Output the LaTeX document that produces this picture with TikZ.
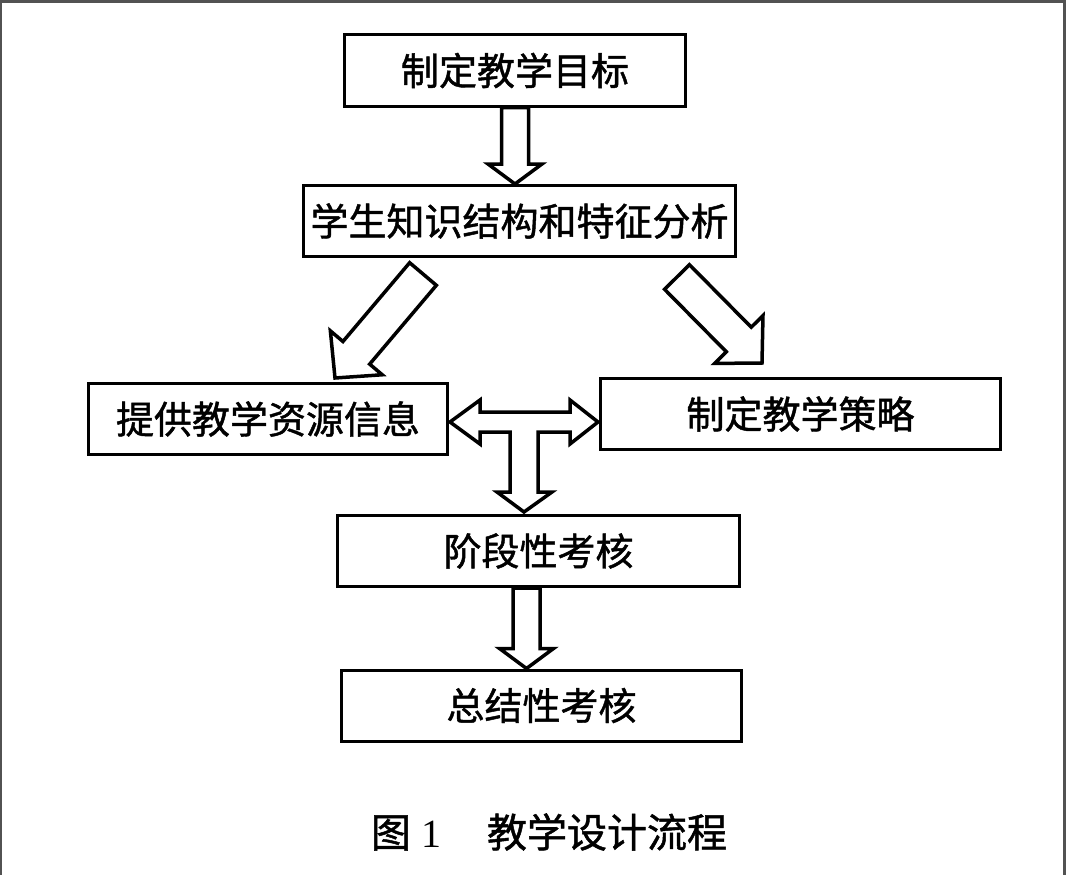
\documentclass[tikz,border=0pt]{standalone}
\usepackage{fontspec}
\newfontfamily\cjk{Noto Sans CJK SC}[FakeBold=1.2]
\newfontfamily\numfont{Liberation Serif}
\usetikzlibrary{calc}

\newcommand\blockarrow[5]{%
  \coordinate (ba-s) at (#1);
  \coordinate (ba-e) at (#2);
  \coordinate (ba-h) at ($(ba-e)!#5!(ba-s)$);
  \draw[blockarr] ($(ba-s)!#3!90:(ba-e)$) -- ($(ba-h)!#3!90:(ba-e)$)
    -- ($(ba-h)!#4!90:(ba-e)$) -- (ba-e) -- ($(ba-h)!#4!-90:(ba-e)$)
    -- ($(ba-h)!#3!-90:(ba-e)$) -- ($(ba-s)!#3!-90:(ba-e)$) -- cycle;
}

\begin{document}
\begin{tikzpicture}[x=1pt,y=-1pt,
    font=\cjk\fontsize{38}{40}\selectfont,
    box/.style={draw,line width=3pt,inner sep=0pt,minimum height=71pt},
    blockarr/.style={draw,fill=white,line width=3.5pt,line join=miter}]
  \useasboundingbox (0,0) rectangle (1066,875);
  \draw[line width=2.5pt,black!68] (1,875) -- (1,1.5) -- (1064.5,1.5) -- (1064.5,875);

  \node[box,minimum width=341pt] (goal) at (515,70.5) {制定教学目标};
  \node[box,minimum width=432pt] (anal) at (519.5,221) {学生知识结构和特征分析};
  \node[box,minimum width=359pt] (res) at (268,419) {提供教学资源信息};
  \node[box,minimum width=400pt] (strat) at (800.5,414) {制定教学策略};
  \node[box,minimum width=402pt] (stage) at (538.5,551) {阶段性考核};
  \node[box,minimum width=400pt] (summ) at (541.5,705.5) {总结性考核};

  \blockarrow{goal.south}{goal.south |- anal.north}{13.5pt}{27pt}{20pt}

  \coordinate (l-s) at (423,274);
  \coordinate (l-e) at (335,378);
  \blockarrow{l-s}{l-e}{17.5pt}{34pt}{33pt}
  \coordinate (r-s) at (677,277);
  \coordinate (r-e) at (762,363);
  \blockarrow{r-s}{r-e}{17.5pt}{34pt}{33pt}

  \coordinate (dl) at (450,422);
  \coordinate (dr) at (598,422);
  \coordinate (dd) at (524,512);
  \draw[blockarr] (dl) -- ++(30,-22) -- ++(0,12) -- ($(dr)+(-28,-10)$) -- ++(0,-12)
    -- (dr) -- ++(-28,22) -- ++(0,-12) -- ($(dd)+(14,-80)$) -- ++(0,60) -- ++(14,0)
    -- (dd) -- ++(-27,-20) -- ++(13,0) -- ($(dd)+(-14,-80)$) -- ($(dl)+(30,10)$)
    -- ++(0,12) -- cycle;

  \coordinate (t5) at ($(stage.south)+(-12,0)$);
  \blockarrow{t5}{t5 |- summ.north}{13.5pt}{27pt}{20pt}

  \node[font=\cjk\fontsize{40}{42}\selectfont] (cap) at (549,832)
    {图\hspace{10pt}{\numfont 1}\hspace{46pt}教学设计流程};
\end{tikzpicture}
\end{document}
